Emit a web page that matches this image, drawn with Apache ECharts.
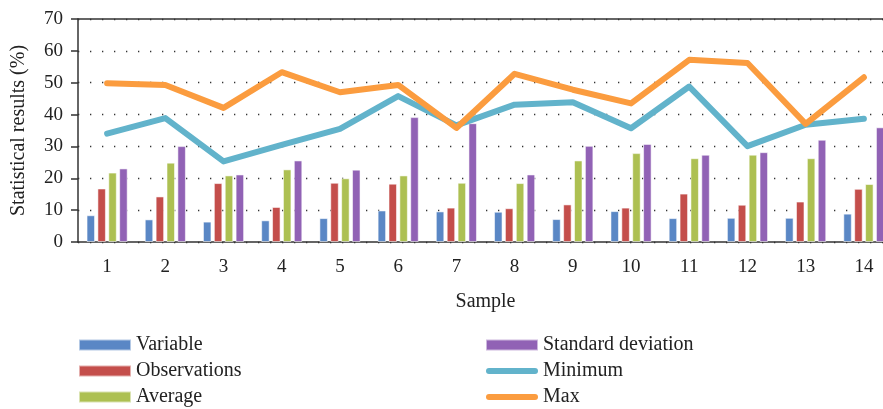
<!DOCTYPE html>
<html>
<head>
<meta charset="utf-8">
<script src="https://cdn.jsdelivr.net/npm/echarts@6/dist/echarts.min.js"></script>
<style>html,body{margin:0;padding:0;background:#fff}#c{width:883px;height:409px}</style>
</head>
<body>
<div id="c"></div>
<script>
const categories = ['1','2','3','4','5','6','7','8','9','10','11','12','13','14'];
const variable = [8.4,7.1,6.4,6.8,7.5,9.9,9.6,9.5,7.2,9.7,7.5,7.6,7.6,8.9];
const observations = [16.8,14.3,18.5,11.0,18.6,18.3,10.8,10.6,11.8,10.8,15.2,11.7,12.7,16.7];
const average = [21.8,24.9,20.9,22.8,20.0,20.9,18.6,18.5,25.6,27.9,26.3,27.4,26.3,18.2];
const stddev = [23.1,30.1,21.2,25.6,22.7,39.2,37.3,21.2,30.2,30.8,27.4,28.2,32.1,36.0];
const minimum = [34.0,38.9,25.3,30.5,35.5,45.8,36.6,43.1,43.9,35.7,48.8,30.1,36.8,38.7];
const maximum = [49.8,49.3,42.1,53.3,47.0,49.3,35.8,52.8,47.8,43.5,57.2,56.2,37.1,51.7];

const FONT = '"Liberation Serif", "DejaVu Serif", serif';
const CAPSULE = 'path://M3,0 L49,0 A3,3 0 0 1 49,6 L3,6 A3,3 0 0 1 3,0 Z';
const chart = echarts.init(document.getElementById('c'));
const barStyle = c => ({color: c, borderColor: 'rgba(255,255,255,0.55)', borderWidth: 1});
const legendText = {fontFamily: FONT, fontSize: 20, color: '#222'};
chart.setOption({
  animation: false,
  textStyle: {fontFamily: FONT},
  grid: {left: 78, top: 19, right: -10, bottom: 167, outerBoundsMode: 'none'},
  legend: [
    {orient: 'vertical', left: 78, top: 335, padding: 0, itemWidth: 52, itemHeight: 11, itemGap: 6,
     textStyle: legendText,
     data: [{name: 'Variable', icon: 'rect'}, {name: 'Observations', icon: 'rect'}, {name: 'Average', icon: 'rect'}]},
    {orient: 'vertical', left: 485, top: 335, padding: 0, itemWidth: 52, itemHeight: 11, itemGap: 6,
     textStyle: legendText,
     data: [{name: 'Standard deviation', icon: 'rect'}, {name: 'Minimum', icon: CAPSULE}, {name: 'Max', icon: CAPSULE}]}
  ],
  xAxis: [
    {type: 'category', data: categories, name: 'Sample', nameLocation: 'middle', nameGap: 50,
     nameTextStyle: {fontFamily: FONT, fontSize: 20, color: '#222'},
     axisLine: {lineStyle: {color: '#333', width: 1.5}},
     axisTick: {alignWithLabel: true, length: 7, lineStyle: {color: '#333', width: 1.5}},
     axisLabel: {fontFamily: FONT, fontSize: 19, color: '#222', margin: 16}},
    {type: 'category', data: categories, position: 'top',
     axisLine: {show: true, onZero: false, lineStyle: {color: '#333', width: 1.5}},
     axisTick: {show: false}, axisLabel: {show: false}}
  ],
  yAxis: {type: 'value', min: 0, max: 70, interval: 10,
    name: 'Statistical results (%)', nameLocation: 'middle', nameGap: 49,
    nameTextStyle: {fontFamily: FONT, fontSize: 20, color: '#222'},
    axisLine: {show: true, lineStyle: {color: '#333', width: 1.5}},
    axisTick: {show: true, length: 7, lineStyle: {color: '#333', width: 1.5}},
    axisLabel: {fontFamily: FONT, fontSize: 19, color: '#222', margin: 15},
    splitLine: {lineStyle: {color: '#333', width: 1.3, type: [1.3, 10.7], dashOffset: -12}}
  },
  series: [
    {name: 'Variable', type: 'bar', data: variable, barWidth: 8.5, barGap: '28%', itemStyle: barStyle('#5a87c5')},
    {name: 'Observations', type: 'bar', data: observations, barWidth: 8.5, barGap: '28%', itemStyle: barStyle('#c44e4b')},
    {name: 'Average', type: 'bar', data: average, barWidth: 8.5, barGap: '28%', itemStyle: barStyle('#adc052')},
    {name: 'Standard deviation', type: 'bar', data: stddev, barWidth: 8.5, barGap: '28%', itemStyle: barStyle('#9162b5')},
    {name: 'Minimum', type: 'line', data: minimum, symbol: 'none', itemStyle: {color: '#62b3cb'},
     lineStyle: {color: '#62b3cb', width: 6, cap: 'round', join: 'round'}},
    {name: 'Max', type: 'line', data: maximum, symbol: 'none', itemStyle: {color: '#fb9c3f'},
     lineStyle: {color: '#fb9c3f', width: 6, cap: 'round', join: 'round'}}
  ]
});
</script>
</body>
</html>
